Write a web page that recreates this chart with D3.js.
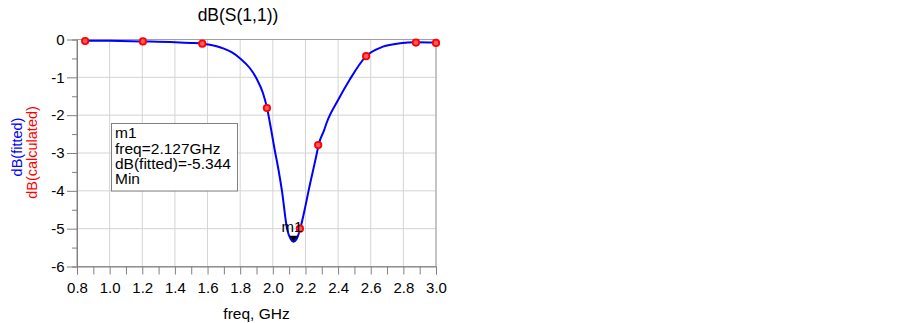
<!DOCTYPE html>
<html><head><meta charset="utf-8">
<script src="https://cdn.jsdelivr.net/npm/d3@7"></script>
<style>body{margin:0;background:#fff}svg{display:block;font-family:Arial,"Liberation Sans",sans-serif}</style>
</head><body><svg id="c" width="903" height="323"></svg>
<script>
// calculated (red points)
const calcFreq = [0.85, 1.204, 1.568, 1.964, 2.166, 2.278, 2.572, 2.877, 3.0];
const calcDb   = [-0.04, -0.05, -0.11, -1.81, -5.0, -2.79, -0.44, -0.08, -0.09];
// fitted (blue curve)
const fitFreq = [0.85, 1.0, 1.2, 1.4, 1.5, 1.568, 1.65, 1.7, 1.75, 1.8, 1.86, 1.9, 1.94, 1.964, 1.99, 2.01, 2.035, 2.056, 2.087, 2.11, 2.127, 2.145, 2.168, 2.195, 2.219, 2.27, 2.28, 2.314, 2.33, 2.4, 2.47, 2.572, 2.675, 2.78, 2.877, 3.0];
const fitDb   = [-0.03, -0.035, -0.05, -0.07, -0.09, -0.11, -0.17, -0.24, -0.34, -0.5, -0.76, -1.03, -1.42, -1.8, -2.39, -2.88, -3.45, -4.0, -5.0, -5.28, -5.344, -5.28, -5.0, -4.5, -4.0, -3.0, -2.79, -2.4, -2.2, -1.6, -1.07, -0.44, -0.19, -0.1, -0.075, -0.08];
const xTicks = [0.8,1.0,1.2,1.4,1.6,1.8,2.0,2.2,2.4,2.6,2.8,3.0];
const yTicks = [0,-1,-2,-3,-4,-5,-6];
const markerFreq = 2.127, markerDb = -5.344;
const markerLines = ["m1","freq=2.127GHz","dB(fitted)=-5.344","Min"];

const svg = d3.select("#c");
const L=77, R=436, T=39.5, B=266.5;
const x = d3.scaleLinear().domain([0.8,3.0]).range([L,R]);
const y = d3.scaleLinear().domain([-6,0]).range([B,T]);
const FONT = "Arial, 'Liberation Sans', sans-serif";

// grid
const g = svg.append("g");
g.selectAll("line.gx").data(xTicks).join("line")
  .attr("x1",d=>x(d)).attr("x2",d=>x(d)).attr("y1",T).attr("y2",B)
  .attr("stroke","#d4d4d4").attr("stroke-width",1);
g.selectAll("line.gy").data(yTicks).join("line")
  .attr("x1",L).attr("x2",R).attr("y1",d=>y(d)).attr("y2",d=>y(d))
  .attr("stroke","#d4d4d4").attr("stroke-width",1);
// frame
svg.append("rect").attr("x",L).attr("y",T).attr("width",R-L).attr("height",B-T)
  .attr("fill","none").attr("stroke","#a0a0a0").attr("stroke-width",1);

// x axis
const isMajorX = d => xTicks.some(t=>Math.abs(t-d)<1e-9);
const xAxis = d3.axisBottom(x).tickValues(d3.range(8,31).map(v=>v/10)).tickSize(8)
  .tickFormat(d=> isMajorX(d) ? d3.format(".1f")(d) : "");
const ax = svg.append("g").attr("transform",`translate(0,${B})`).call(xAxis);
ax.select(".domain").attr("stroke","#808080");
ax.selectAll(".tick line").attr("stroke","#808080");
ax.selectAll("text").attr("font-size",15).attr("fill","#000").attr("y",26).attr("dy",0)
  .attr("font-family",FONT);

// y axis
const yAxis = d3.axisLeft(y).tickValues(d3.range(-12,1).map(v=>v/2)).tickSize(5)
  .tickFormat(d=> Number.isInteger(d) ? String(d) : "");
const ay = svg.append("g").attr("transform",`translate(${L},0)`).call(yAxis);
ay.select(".domain").attr("stroke","#808080");
ay.selectAll(".tick line").attr("stroke","#808080")
  .attr("x2",d=> Number.isInteger(d) ? -10 : -5);
ay.selectAll("text").attr("font-size",15).attr("fill","#000").attr("x",-12.5)
  .attr("font-family",FONT);

// fitted curve
const line = d3.line().x(d=>x(d[0])).y(d=>y(d[1])).curve(d3.curveMonotoneX);
svg.append("path").datum(fitFreq.map((f,i)=>[f,fitDb[i]]))
  .attr("d",line).attr("fill","none").attr("stroke","#0000ff").attr("stroke-width",2);

// calculated points
svg.selectAll("circle.c").data(calcFreq.map((f,i)=>[f,calcDb[i]])).join("circle")
  .attr("cx",d=>x(d[0])).attr("cy",d=>y(d[1])).attr("r",3.2)
  .attr("fill","#ff5a5a").attr("stroke","#ff0000").attr("stroke-width",1.8);

// marker
const mx = x(markerFreq), my = y(markerDb);
svg.append("path").attr("d",`M${mx-4.5},${my-6} L${mx+4.5},${my-6} L${mx},${my} Z`).attr("fill","#000");
svg.append("text").attr("x",mx-1.5).attr("y",my-10).attr("font-size",15).attr("fill","#000")
  .attr("text-anchor","middle").text("m1");

// marker box
svg.append("rect").attr("x",111.5).attr("y",123.5).attr("width",126).attr("height",67.5)
  .attr("fill","#fff").attr("stroke","#808080").attr("stroke-width",1);
svg.selectAll("text.mb").data(markerLines).join("text")
  .attr("x",115).attr("y",(d,i)=>138.3+i*15.3).attr("font-size",15.5).attr("fill","#000").text(d=>d);

// title
svg.append("text").attr("x",238).attr("y",20.5).attr("text-anchor","middle")
  .attr("font-size",17.5).attr("fill","#000").text("dB(S(1,1))");
// x label
svg.append("text").attr("x",256.5).attr("y",318.5).attr("text-anchor","middle")
  .attr("font-size",15.5).attr("fill","#000").text("freq, GHz");
// y labels
svg.append("text").attr("transform","translate(22,147) rotate(-90)").attr("text-anchor","middle")
  .attr("font-size",14.5).attr("fill","#0000ff").text("dB(fitted)");
svg.append("text").attr("transform","translate(37,152.5) rotate(-90)").attr("text-anchor","middle")
  .attr("font-size",14.5).attr("fill","#ff0000").text("dB(calculated)");
</script></body></html>
